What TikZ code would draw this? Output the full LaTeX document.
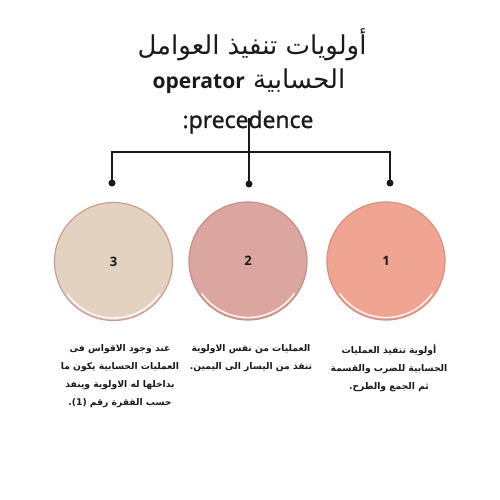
\documentclass[tikz,border=0pt]{standalone}
\usepackage{fontspec}
\setmainfont{Open Sans}
\newfontfamily\arabicfont[Script=Arabic]{DejaVu Sans}
\newfontfamily\medfont[FakeBold=1.2]{Open Sans}
\TeXXeTstate=1
\definecolor{fillA}{HTML}{EFA592}
\definecolor{fillB}{HTML}{DCA6A0}
\definecolor{fillC}{HTML}{E4D2C1}
\definecolor{rimA}{HTML}{D88E80}
\definecolor{rimB}{HTML}{C98E88}
\definecolor{rimC}{HTML}{D19A92}
\definecolor{ink}{HTML}{1A1A1A}
\tikzset{
  bubble/.style={circle, minimum size=118pt, inner sep=0pt, line width=1.2pt, font=\bfseries\fontsize{13}{15}\selectfont, text=ink},
  dotnode/.style={circle, fill=ink, minimum size=7pt, inner sep=0pt},
  conn/.style={draw=ink, line width=1.4pt},
  body/.style={align=center, font=\arabicfont\bfseries\fontsize{9.2}{18}\selectfont, text=ink, inner sep=0pt, anchor=north},
  titlear/.style={font=\arabicfont\fontsize{26}{30}\selectfont, text=ink, inner sep=0pt, anchor=base},
  titlela/.style={font=\fontsize{22}{26}\selectfont, text=ink, inner sep=0pt, anchor=base}
}
\begin{document}
\begin{tikzpicture}[x=1pt,y=-1pt]
\useasboundingbox (0,0) rectangle (500,500);
% title
\node[titlear] (t1) at (252,55) {\beginR أولويات تنفيذ العوامل\endR};
\node[titlear, anchor=base west] (t2a) at (253,89) {\beginR الحسابية\endR};
\node[titlela, anchor=base east, font=\bfseries\fontsize{21}{26}\selectfont] (t2b) at (245,89) {operator};
\node[titlela, font=\medfont\fontsize{23}{26}\selectfont] (t3) at (248,128) {:precedence};
% connectors
\coordinate (top) at (249,118);
\coordinate (hub) at (249,152);
\node[dotnode] (d3) at (112,183) {};
\node[dotnode] (d2) at (249,184) {};
\node[dotnode] (d1) at (390,183) {};
\draw[conn] (top) -- (d2.center);
\draw[conn] (d3.center) |- (hub) -| (d1.center);
% circles
\node[bubble, fill=fillC, draw=rimC] (c3) at (113.5,261.5) {3};
\node[bubble, fill=fillB, draw=rimB] (c2) at (248,261) {2};
\node[bubble, fill=fillA, draw=rimA] (c1) at (386,261) {1};
\foreach \c in {c1,c2,c3}{
  \draw[white, line width=1.3pt] (\c.center) ++(145:56.5) arc[start angle=145, end angle=35, radius=56.5];
}
% texts
\node[body] (b3) at (120,344) {\beginR عند وجود الاقواس فى\endR\\\beginR العمليات الحسابية يكون ما\endR\\\beginR بداخلها له الاولوية وينفذ\endR\\\beginR حسب الفقرة رقم (1).\endR};
\node[body] (b2) at (251,344) {\beginR العمليات من نفس الاولوية\endR\\\beginR تنفذ من اليسار الى اليمين.\endR};
\node[body] (b1) at (389,344) {\beginR أولوية تنفيذ العمليات\endR\\\beginR الحسابية للضرب والقسمة\endR\\\beginR ثم الجمع والطرح.\endR};
\end{tikzpicture}
\end{document}
